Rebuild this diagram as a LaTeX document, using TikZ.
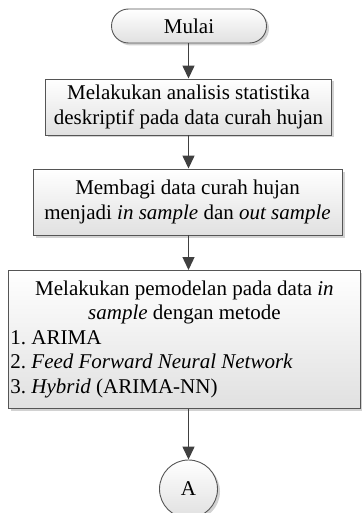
\documentclass[tikz,border=0pt]{standalone}
\usepackage{fontspec}
\setmainfont{Liberation Serif}
\usetikzlibrary{arrows.meta,shadows}
\definecolor{edgegray}{HTML}{555555}
\definecolor{arrowgray}{HTML}{404040}
\tikzset{
  flowbox/.style={draw=edgegray, line width=0.9pt, top color=white, bottom color=black!12,
    drop shadow={shadow xshift=2.5pt, shadow yshift=-2.5pt, fill=black!22, opacity=0.8},
    align=center, inner sep=2pt, font=\fontsize{21}{24.5}\selectfont\frenchspacing},
  termbox/.style={flowbox, rounded corners=17pt},
  connbox/.style={flowbox, circle},
  flowarrow/.style={draw=arrowgray, line width=1.4pt, -{Triangle[length=13pt,width=12pt]}}
}
\newcommand{\myctrline}[1]{\makebox[348pt][c]{#1}}
\newcommand{\myleftline}[1]{\makebox[348pt][l]{#1}}
\begin{document}
\begin{tikzpicture}[x=1pt,y=-1pt]
\useasboundingbox (0,0) rectangle (361,513);
\node[termbox, minimum width=155pt, minimum height=34pt] (start) at (189,26) {Mulai};
\node[flowbox, minimum width=286pt, minimum height=56pt] (b1) at (188.5,107) {Melakukan analisis statistika\\deskriptif pada data curah hujan};
\node[flowbox, minimum width=309pt, minimum height=66pt] (b2) at (187.5,202) {Membagi data curah hujan\\menjadi \textit{in sample} dan \textit{out sample}};
\node[flowbox, align=left, minimum width=352pt, minimum height=138pt, anchor=north west] (b3) at (8,270) {\myctrline{Melakukan pemodelan pada data \textit{in}}\\\myctrline{\textit{sample} dengan metode}\\\myleftline{1. ARIMA}\\\myleftline{2. \textit{Feed Forward Neural Network}}\\\myleftline{3. \textit{Hybrid} (ARIMA-NN)}};
\node[connbox, minimum size=58pt] (A) at (188.5,489) {A};
\draw[flowarrow] (start.south -| b1.north) -- (b1.north);
\draw[flowarrow] (b1.south) -- (b1.south |- b2.north);
\draw[flowarrow] (b1.south |- b2.south) -- (b1.south |- b3.north);
\draw[flowarrow] (A.north |- b3.south) -- (A.north);
\end{tikzpicture}
\end{document}
